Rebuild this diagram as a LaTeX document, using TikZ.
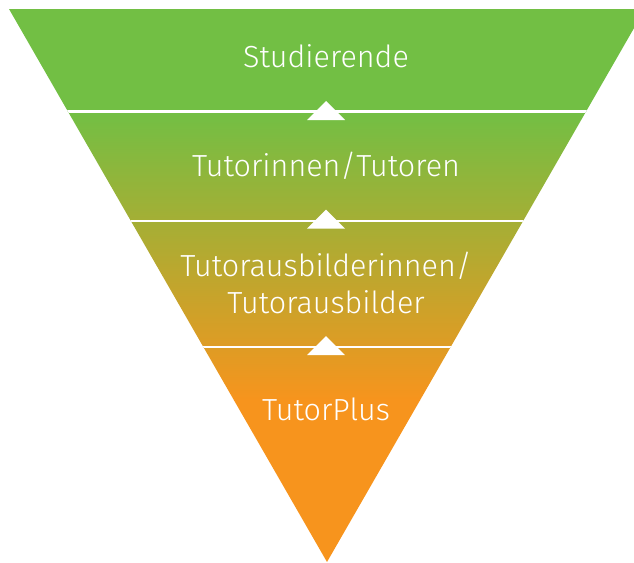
\documentclass[tikz,border=0pt]{standalone}
\usepackage{fontspec}
\setmainfont{Fira Sans}[UprightFont={* Light}]
\definecolor{topgreen}{RGB}{114,191,68}
\definecolor{botorange}{RGB}{247,148,29}
\tikzset{
  label/.style={text=white, font=\fontsize{30.5}{36}\selectfont, anchor=base, inner sep=0pt},
  sepline/.style={draw=white, line width=2.6pt},
  marker/.style={fill=white, draw=none}
}
\begin{document}
\begin{tikzpicture}[x=1pt,y=-1pt]
\useasboundingbox (0,0) rectangle (634,562);
\clip (0,0) rectangle (634,562);
\begin{scope}
  \clip (9,9) -- (645,9) -- (327,562) -- cycle;
  \fill[topgreen] (0,0) rectangle (660,111.5);
  \shade[top color=topgreen, bottom color=botorange] (0,111.5) rectangle (660,400);
  \fill[botorange] (0,400) rectangle (660,570);
  \draw[sepline] (0,111.5) -- (660,111.5);
  \draw[sepline] (0,221) -- (660,221);
  \draw[sepline] (0,347) -- (660,347);
\end{scope}
\fill[marker] (326,101) -- (345,120) -- (307,120) -- cycle;
\fill[marker] (326,209.5) -- (345,228.7) -- (307,228.7) -- cycle;
\fill[marker] (326,336) -- (345,355) -- (307,355) -- cycle;
\node[label] (studierende) at (326,67.3) {Studierende};
\node[label] (tutoren) at (326,176.7) {Tutorinnen/Tutoren};
\node[label] (ausb1) at (326,276.7) {Tutorausbilderinnen/};
\node[label] (ausb2) at (326,313) {Tutorausbilder};
\node[label] (plus) at (326,420.7) {TutorPlus};
\end{tikzpicture}
\end{document}
